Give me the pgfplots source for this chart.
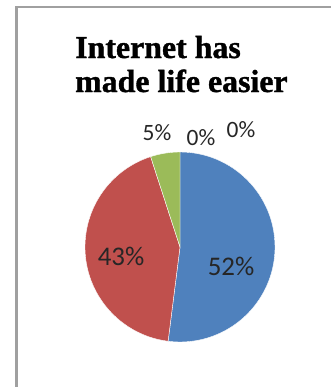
\documentclass[border=0pt]{standalone}
\usepackage{pgfplots}
\pgfplotsset{compat=1.18}
\usepackage{pgfplotstable}
\usepackage{fontspec}
\setmainfont{Liberation Serif}
\newfontfamily\titlefont[FakeBold=1.2]{Liberation Serif Bold}
\newfontfamily\carlito{Carlito}
\definecolor{slice0}{HTML}{4F81BD}
\definecolor{slice1}{HTML}{C0504D}
\definecolor{slice2}{HTML}{9BBB59}
\definecolor{slice3}{HTML}{8064A2}
\definecolor{slice4}{HTML}{4BACC6}
\definecolor{lbl}{HTML}{262626}
\definecolor{frame}{HTML}{A0A0A0}
\pgfplotstableread{
label value lx ly size
A 52 231 121 27
B 43 121 130.5 27
C 5 157 254 23.5
D 0 201 249 23.5
E 0 241 257 23.5
}\piedata
\begin{document}
\begin{tikzpicture}
\useasboundingbox (0,0) rectangle (331bp,387bp);
\fill[white] (0,0) rectangle (331bp,387bp);
\begin{axis}[
  at={(0,0)}, anchor=south west,
  x=1bp, y=1bp, scale only axis,
  xmin=0, xmax=331, ymin=0, ymax=387,
  hide axis, clip=false]
\addplot[draw=none] coordinates {(0,0) (331,387)};
% frame
\draw[frame, line width=2.2bp] (axis cs:16.5,0) -- (axis cs:16.5,379.8) -- (axis cs:331,379.8);
% pie slices from the table
\pgfplotsextra{
  \xdef\cum{90}
  \pgfplotstableforeachcolumnelement{value}\of\piedata\as\v{%
    \pgfmathsetmacro\a{\cum}%
    \pgfmathsetmacro\b{\cum-3.6*\v}%
    \pgfmathparse{\v>0 ? 1 : 0}%
    \ifnum\pgfmathresult=1
      \fill[color=slice\pgfplotstablerow, draw=white, line width=0.4bp]
        (axis cs:180,140) -- ++(\a:95bp) arc[start angle=\a, end angle=\b, radius=95bp] -- cycle;
    \fi
    \xdef\cum{\b}%
  }%
}
% labels
\pgfplotsextra{
  \pgfplotstablegetrowsof{\piedata}
  \pgfmathtruncatemacro\nrows{\pgfplotsretval-1}
  \foreach \i in {0,...,\nrows}{
    \pgfplotstablegetelem{\i}{value}\of\piedata \let\vv\pgfplotsretval
    \pgfplotstablegetelem{\i}{lx}\of\piedata \let\xx\pgfplotsretval
    \pgfplotstablegetelem{\i}{ly}\of\piedata \let\yy\pgfplotsretval
    \pgfplotstablegetelem{\i}{size}\of\piedata \let\ss\pgfplotsretval
    \node[lbl, inner sep=0pt] at (axis cs:\xx,\yy) {\carlito\fontsize{\ss}{\ss}\selectfont \vv\%};
  }
}
% title
\node[anchor=base west, inner sep=0pt] at (axis cs:75,329)
  {\titlefont\fontsize{32}{34}\selectfont Internet has};
\node[anchor=base west, inner sep=0pt] at (axis cs:75,295)
  {\titlefont\fontsize{32}{34}\selectfont made life easier};
\end{axis}
\end{tikzpicture}
\end{document}
